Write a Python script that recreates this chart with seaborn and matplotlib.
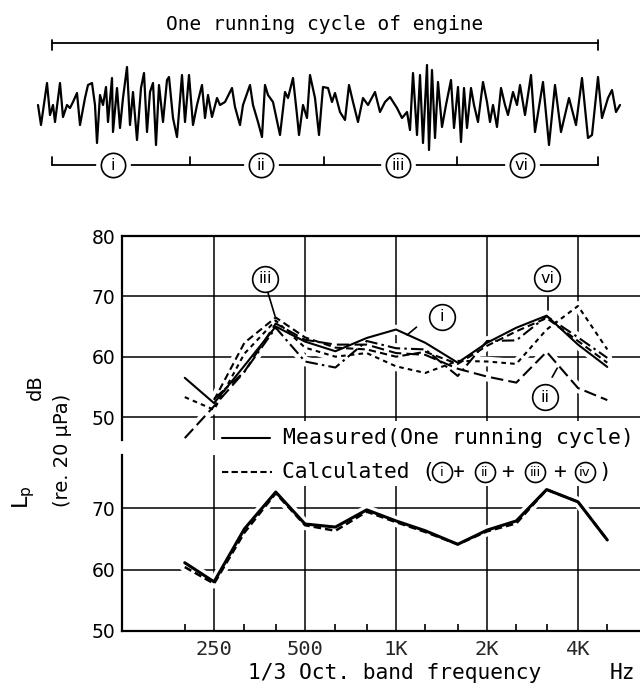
import numpy as np
import pandas as pd
import matplotlib
matplotlib.use("Agg")
import matplotlib.pyplot as plt
from matplotlib.ticker import FixedLocator, NullFormatter
import seaborn as sns

# 1/3 octave band centres, Hz
freq_hz = [200, 250, 315, 400, 500, 630, 800, 1000, 1250, 1600, 2000, 2500, 3150, 4000, 5000]

# upper panel - spectra of the parts of one running cycle (dB re 20 uPa)
seg_i = [56.5, 52.3, 58.5, 65.0, 62.5, 60.9, 63.1, 64.5, 62.3, 59.0, 62.3, 64.8, 66.8, 62.0, 58.3]
seg_ii = [46.5, 51.8, 57.5, 65.5, 62.8, 62.0, 62.0, 60.6, 60.3, 58.0, 56.7, 55.7, 60.8, 54.8, 52.8]
seg_iii = [np.nan, 52.8, 62.3, 66.5, 63.2, 61.5, 61.2, 60.0, 60.8, 58.8, 61.8, 64.2, 66.4, 62.6, 59.0]
seg_vi = [np.nan, 53.0, 57.5, 64.8, 59.2, 58.2, 62.6, 61.4, 61.2, 56.8, 62.6, 62.7, 66.7, 63.2, 59.8]
seg_x = [53.3, 51.2, 60.5, 66.0, 61.5, 60.0, 60.6, 58.4, 57.3, 59.3, 59.2, 58.8, 64.5, 68.4, 61.2]

# lower panel - whole cycle, measured and calculated
measured = [61.1, 58.0, 66.6, 72.6, 67.4, 66.9, 69.7, 67.9, 66.3, 64.1, 66.4, 67.9, 73.0, 71.0, 64.8]
calculated = [60.4, 57.7, 66.0, 72.4, 67.2, 66.3, 69.4, 67.7, 66.1, 64.1, 66.2, 67.5, 73.0, 71.0, 64.8]

tick_freqs = [250, 500, 1000, 2000, 4000]
tick_labels = ['250', '500', '1K', '2K', '4K']
minor_freqs = [200, 315, 400, 630, 800, 1250, 1600, 2500, 3150, 5000]
upper_yticks = [50, 60, 70, 80]
lower_yticks = [50, 60, 70]

# pressure trace over one cycle (pixel units)
wave_pos = [38, 41, 47, 50, 53, 55, 60, 63, 67, 70,
            73, 77, 80, 85, 88, 92, 95, 97, 100, 103,
            106, 108, 112, 113, 117, 120, 123, 127, 130, 133,
            137, 141, 144, 147, 150, 153, 156, 159, 163, 167,
            169, 173, 177, 182, 185, 189, 193, 197, 202, 205,
            208, 212, 217, 220, 225, 232, 235, 240, 243, 250,
            253, 258, 262, 265, 268, 273, 280, 285, 288, 293,
            297, 299, 303, 307, 310, 315, 319, 323, 328, 332,
            335, 340, 345, 349, 353, 358, 363, 368, 375, 380,
            385, 390, 397, 402, 407, 410, 413, 417, 420, 423,
            427, 429, 432, 435, 438, 442, 446, 451, 454, 458,
            461, 464, 467, 471, 474, 478, 483, 487, 490, 493,
            497, 501, 505, 508, 513, 517, 520, 525, 531, 535,
            543, 549, 555, 561, 569, 576, 582, 588, 592, 598,
            602, 608, 612, 616, 620]
wave_amp = [0, -20, 22, -10, 0, -17, 22, -12, 0, -3,
            3, 12, -20, 7, 20, 22, 0, -38, 10, 0,
            18, -17, 27, -27, 17, -23, 7, 38, -20, 13,
            -35, 17, 32, -27, 13, 22, -40, 20, -17, 25,
            28, -13, -32, 30, -17, 30, -20, 0, 20, -13,
            10, -12, 7, 0, 3, 17, -2, -20, 0, 20,
            0, -17, -32, 20, 10, 3, -30, 13, 7, 27,
            -10, -30, 0, -13, 30, 7, -30, 18, 17, 3,
            12, -7, -15, 20, 3, -17, 7, 0, 13, -7,
            3, 8, -3, -13, -7, -25, 32, -30, 30, -38,
            40, -45, 35, -33, 23, -22, 0, 25, -23, 18,
            -37, 17, -23, 17, 0, -17, 23, 3, -17, 0,
            -22, 17, 0, -10, 13, 0, 20, -10, 30, -27,
            23, -40, 20, -27, 7, -20, 27, -33, -30, 28,
            -13, 7, 15, -7, 0]

cycle_marks = [52, 190, 324, 457, 598]
cycle_labels = ['i', 'ii', 'iii', 'vi']
cycle_label_pos = [113, 261, 398, 522]

sns.set_theme(style="white")
plt.rcParams['font.family'] = ['DejaVu Sans']
mono = 'DejaVu Sans Mono'

W, H = 640, 689
fig = plt.figure(figsize=(6.4, 6.89), dpi=100)


def box(left, top, right, bottom):
    return [left / W, 1 - bottom / H, (right - left) / W, (bottom - top) / H]


ax_up = fig.add_axes(box(122, 236, 640, 440))
ax_lo = fig.add_axes(box(122, 455, 640, 631))

for ax in (ax_up, ax_lo):
    ax.set_xscale('log')
    ax.set_xlim(124, 6415)
    for s in ax.spines.values():
        s.set_color('black')
        s.set_linewidth(1.6)
    ax.spines['right'].set_visible(False)
ax_up.spines['bottom'].set_visible(False)
ax_lo.spines['top'].set_visible(False)
ax_up.set_ylim(46.19, 80)
ax_lo.set_ylim(50, 78.62)

# grid lines, drawn by hand
for y in [50, 60, 70]:
    ax_up.axhline(y, color='black', lw=1.1, zorder=1)
for y in [60, 70]:
    ax_lo.axhline(y, color='black', lw=1.1, zorder=1)
for f in tick_freqs:
    ax_up.vlines(f, 46.19 if f == 250 else 49.4, 80, color='black', lw=1.1, zorder=1)
    ax_lo.vlines(f, 50, 78.62 if f == 250 else 73.5, color='black', lw=1.1, zorder=1)

upper = pd.DataFrame({'freq': freq_hz * 5,
                      'level': seg_i + seg_ii + seg_iii + seg_vi + seg_x,
                      'part': ['i'] * 15 + ['ii'] * 15 + ['iii'] * 15 + ['vi'] * 15 + ['x'] * 15})
lower = pd.DataFrame({'freq': freq_hz * 2,
                      'level': measured + calculated,
                      'kind': ['meas'] * 15 + ['calc'] * 15})

up_styles = {'i': '-', 'ii': (0, (6, 2.5)), 'iii': (0, (3.5, 2)),
             'vi': (0, (6, 2, 1.2, 2)), 'x': (0, (2.2, 2))}
lo_styles = {'meas': ('-', 2.2), 'calc': ((0, (3, 1.6)), 1.8)}

# white halos first so the grid lines break around the curves
for ax, df in ((ax_up, upper), (ax_lo, lower)):
    key = 'part' if 'part' in df else 'kind'
    for _, sub in df.groupby(key):
        sub = sub.dropna()
        ax.plot(sub['freq'], sub['level'], color='white', lw=7, zorder=2,
                solid_capstyle='round')

for part, sub in upper.groupby('part'):
    sub = sub.dropna()
    sns.lineplot(data=sub, x='freq', y='level', ax=ax_up, color='black', lw=1.5,
                 linestyle=up_styles[part], zorder=3, estimator=None, errorbar=None,
                 legend=False, dash_capstyle='butt')
for kind, sub in lower.groupby('kind'):
    ls, lw = lo_styles[kind]
    sns.lineplot(data=sub, x='freq', y='level', ax=ax_lo, color='black', lw=lw,
                 linestyle=ls, zorder=3 if kind == 'calc' else 4, estimator=None,
                 errorbar=None, legend=False, dash_capstyle='butt')

# ticks
ax_up.tick_params(axis='x', which='both', length=0, labelbottom=False)
ax_lo.xaxis.set_major_locator(FixedLocator(tick_freqs))
ax_lo.set_xticklabels(tick_labels, fontfamily=mono, fontsize=14.7)
ax_lo.xaxis.set_minor_locator(FixedLocator(minor_freqs))
ax_lo.xaxis.set_minor_formatter(NullFormatter())
ax_lo.tick_params(axis='x', which='major', length=0, pad=6.5)
ax_lo.tick_params(axis='x', which='minor', direction='in', length=5, width=1.2,
                  color='black', bottom=True)
ax_up.set_yticks(upper_yticks)
ax_lo.set_yticks(lower_yticks)
for ax in (ax_up, ax_lo):
    ax.tick_params(axis='y', length=0, pad=5, labelsize=13.5, labelcolor='black')
    ax.set_xlabel('')
    ax.set_ylabel('')


def circled(ax, x, y, txt, ms, fs, gap=None):
    if gap:
        ax.plot([x], [y], 'o', ms=gap, mfc='white', mec='none', zorder=5)
    ax.plot([x], [y], 'o', ms=ms, mfc='white', mec='black', mew=1.2, zorder=6)
    ax.text(x, y, txt, ha='center', va='center', fontsize=fs, color='black', zorder=7)


# part labels in the upper panel: (text, label point, leader from, leader to)
part_notes = [('iii', (368, 72.9), (377, 70.6), (398, 66.7)),
              ('i', (1419, 66.6), (1169, 64.9), (1088, 63.6)),
              ('vi', (3165, 73.0), (3182, 69.9), (3182, 67.7)),
              ('ii', (3100, 53.3), (3285, 56.6), (3415, 58.1))]
for txt, (lx, ly), (x0, y0), (x1, y1) in part_notes:
    ax_up.plot([x0, x1], [y0, y1], color='black', lw=1.2, zorder=4)
    circled(ax_up, lx, ly, txt, 18.5, 11.5)

# overlay in pixel units for the trace, brackets and legend
ov = fig.add_axes([0, 0, 1, 1])
ov.set_xlim(0, W)
ov.set_ylim(H, 0)
ov.axis('off')

ov.text(325, 25, 'One running cycle of engine', fontfamily=mono, fontsize=14,
        ha='center', va='center', color='black')
ov.plot([cycle_marks[0], cycle_marks[-1]], [43, 43], color='black', lw=1.3)
for x in (cycle_marks[0], cycle_marks[-1]):
    ov.plot([x, x], [40, 50], color='black', lw=1.3)

ov.plot(wave_pos, 105 - np.array(wave_amp), color='black', lw=1.6)

ov.plot([cycle_marks[0], cycle_marks[-1]], [165, 165], color='black', lw=1.3)
for x in cycle_marks:
    ov.plot([x, x], [165, 157], color='black', lw=1.3)
for x, txt in zip(cycle_label_pos, cycle_labels):
    circled(ov, x, 165, txt, 17.5, 11.5, gap=25)

# axis titles
ov.text(35, 387, 'dB', rotation=90, ha='center', va='center', fontsize=14, color='black')
ov.text(63, 450, '(re. 20 \u03bcPa)', rotation=90, ha='center', va='center',
        fontsize=14, color='black')
ov.text(24, 497, 'L$_\\mathregular{p}$', rotation=90, ha='center', va='center',
        fontsize=16, color='black')
ov.text(395, 673, '1/3 Oct. band frequency', fontfamily=mono, fontsize=15.3,
        ha='center', va='center', color='black')
ov.text(622, 673, 'Hz', fontfamily=mono, fontsize=15.3, ha='center', va='center',
        color='black')

# legend
wbox = dict(fc='white', ec='none', pad=1.5)
ov.plot([222, 270], [438, 438], color='black', lw=1.5)
ov.text(283, 438, 'Measured(One running cycle)', fontfamily=mono, fontsize=15.5,
        ha='left', va='center', color='black', bbox=wbox)
ov.plot([222, 272], [472, 472], color='black', lw=1.5, linestyle=(0, (3, 1.6)))
ov.text(282, 472, 'Calculated (', fontfamily=mono, fontsize=15.3,
        ha='left', va='center', color='black', bbox=wbox)
for x in [457, 508, 560]:
    ov.text(x, 472, '+', fontfamily=mono, fontsize=15.3, ha='center', va='center',
            color='black')
ov.text(605, 472, ')', fontfamily=mono, fontsize=15.3, ha='center', va='center',
        color='black')
for x, txt in zip([442, 485, 535, 585], ['i', 'ii', 'iii', 'iv']):
    circled(ov, x, 472, txt, 14.4, 9.5, gap=17)

fig.savefig('out.png', dpi=100, facecolor='white')
